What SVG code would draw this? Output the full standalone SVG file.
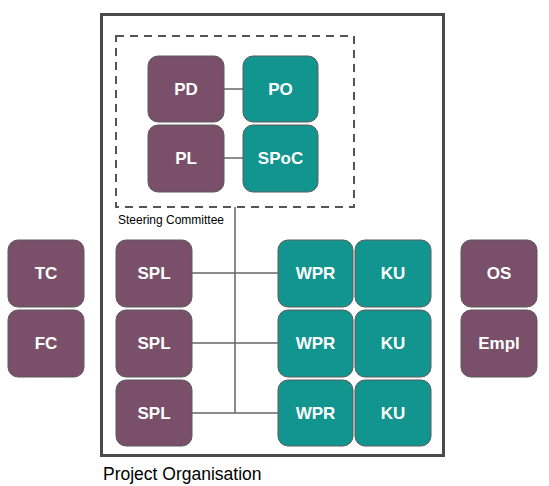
<svg xmlns="http://www.w3.org/2000/svg" width="549" height="486" viewBox="0 0 549 486">
<style>
.p{fill:#7a4f69;stroke:#5a5a5a;stroke-width:1}
.t{fill:#12958f;stroke:#5a5a5a;stroke-width:1}
.lb{font-family:"Liberation Sans",Arial,sans-serif;font-weight:bold;font-size:17px;fill:#fff;text-anchor:middle;dominant-baseline:central}
.c{stroke:#666;stroke-width:1.5;fill:none}
.cap{font-family:"Liberation Sans",Arial,sans-serif;fill:#000}
</style>
<rect width="549" height="486" fill="#fff"/>
<rect id="project-organisation" x="101.5" y="14.5" width="342" height="441" fill="none" stroke="#4a4a4a" stroke-width="3"/>
<rect id="steering-committee" x="116" y="36" width="238" height="171" fill="none" stroke="#555" stroke-width="2" stroke-dasharray="8,6"/>
<text class="cap" x="118" y="224" font-size="12">Steering Committee</text>
<text class="cap" x="103" y="480" font-size="17.5">Project Organisation</text>
<g id="connectors">
<line class="c" x1="224" y1="89" x2="243" y2="89"/>
<line class="c" x1="224" y1="158" x2="243" y2="158"/>
<line class="c" x1="235" y1="207" x2="235" y2="413"/>
<line class="c" x1="192" y1="273" x2="278" y2="273"/>
<line class="c" x1="192" y1="343" x2="278" y2="343"/>
<line class="c" x1="192" y1="413" x2="278" y2="413"/>
</g>
<g id="PD"><rect class="p" x="148" y="56" width="76" height="66" rx="10"/><text class="lb" x="186" y="89">PD</text></g>
<g id="PO"><rect class="t" x="243" y="56" width="75" height="66" rx="10"/><text class="lb" x="280.5" y="89">PO</text></g>
<g id="PL"><rect class="p" x="148" y="125" width="76" height="67" rx="10"/><text class="lb" x="186" y="158.5">PL</text></g>
<g id="SPoC"><rect class="t" x="243" y="125" width="75" height="67" rx="10"/><text class="lb" x="280.5" y="158.5">SPoC</text></g>
<g id="SPL1"><rect class="p" x="116" y="240" width="76" height="67" rx="10"/><text class="lb" x="154" y="273.5">SPL</text></g>
<g id="SPL2"><rect class="p" x="116" y="310" width="76" height="67" rx="10"/><text class="lb" x="154" y="343.5">SPL</text></g>
<g id="SPL3"><rect class="p" x="116" y="380" width="76" height="66" rx="10"/><text class="lb" x="154" y="413">SPL</text></g>
<g id="WPR1"><rect class="t" x="278" y="240" width="75" height="67" rx="10"/><text class="lb" x="315.5" y="273.5">WPR</text></g>
<g id="WPR2"><rect class="t" x="278" y="310" width="75" height="67" rx="10"/><text class="lb" x="315.5" y="343.5">WPR</text></g>
<g id="WPR3"><rect class="t" x="278" y="380" width="75" height="66" rx="10"/><text class="lb" x="315.5" y="413">WPR</text></g>
<g id="KU1"><rect class="t" x="355" y="240" width="76" height="67" rx="10"/><text class="lb" x="393" y="273.5">KU</text></g>
<g id="KU2"><rect class="t" x="355" y="310" width="76" height="67" rx="10"/><text class="lb" x="393" y="343.5">KU</text></g>
<g id="KU3"><rect class="t" x="355" y="380" width="76" height="66" rx="10"/><text class="lb" x="393" y="413">KU</text></g>
<g id="TC"><rect class="p" x="8" y="240" width="76" height="67" rx="10"/><text class="lb" x="46" y="273.5">TC</text></g>
<g id="FC"><rect class="p" x="8" y="310" width="76" height="67" rx="10"/><text class="lb" x="46" y="343.5">FC</text></g>
<g id="OS"><rect class="p" x="461" y="240" width="76" height="67" rx="10"/><text class="lb" x="499" y="273.5">OS</text></g>
<g id="Empl"><rect class="p" x="461" y="310" width="76" height="67" rx="10"/><text class="lb" x="499" y="343.5">Empl</text></g>
</svg>
